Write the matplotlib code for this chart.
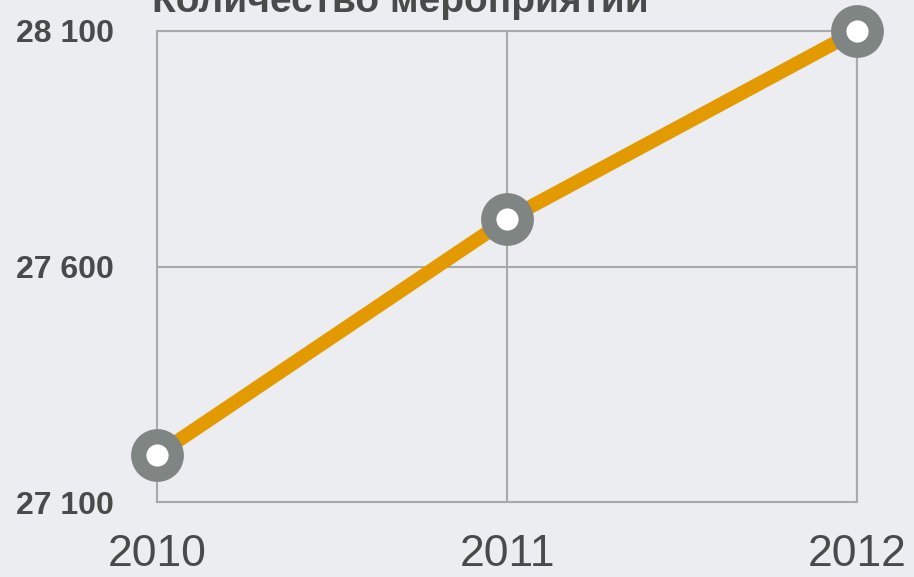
import matplotlib
matplotlib.use("Agg")
import matplotlib.pyplot as plt
from matplotlib.ticker import FixedLocator

years = [2010, 2011, 2012]
events = [27200, 27700, 28100]
y_ticks = [27100, 27600, 28100]
y_tick_labels = ["27 100", "27 600", "28 100"]
x_tick_labels = ["2010", "2011", "2012"]
title = "Количество мероприятий"

bg = "#ECEDF0"
W, H = 914, 577
fig = plt.figure(figsize=(W / 100, H / 100), dpi=100, facecolor=bg)
ax = fig.add_axes([157 / W, (H - 502) / H, 700 / W, 471 / H], facecolor=bg)

ax.plot(years, events, color="#E39A00", lw=10, solid_capstyle="butt", zorder=3,
        clip_on=False)
ax.plot(years, events, linestyle="none", marker="o", ms=27, mew=11,
        mec="#7F8583", mfc="white", zorder=4, clip_on=False)

ax.set_xlim(2010, 2012)
ax.set_ylim(27100, 28100)
ax.xaxis.set_major_locator(FixedLocator(years))
ax.yaxis.set_major_locator(FixedLocator(y_ticks))
ax.set_xticklabels(x_tick_labels, family=["Liberation Sans", "DejaVu Sans"],
                   fontsize=32, color="#4A4A4A")
ax.set_yticklabels(y_tick_labels, family=["Liberation Sans", "DejaVu Sans"],
                   fontsize=23, fontweight="bold", color="#4A4A4A")
ax.tick_params(axis="both", length=0)
ax.tick_params(axis="x", pad=23)
ax.tick_params(axis="y", pad=31)
ax.grid(True, color="#A9A9A9", lw=1.5)
for s in ax.spines.values():
    s.set_color("#A9A9A9")
    s.set_linewidth(1.5)

fig.text(152 / W, 1 - 12 / H, title, family=["Liberation Sans", "DejaVu Sans"],
         fontsize=28, fontweight="bold", color="#4A4A4A", ha="left", va="baseline")

fig.savefig("out.png", dpi=100, facecolor=bg)
